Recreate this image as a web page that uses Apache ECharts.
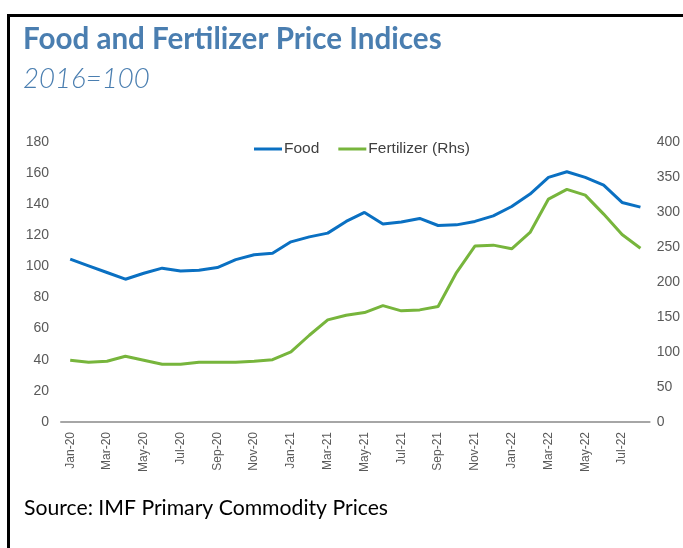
<!DOCTYPE html>
<html>
<head>
<meta charset="utf-8">
<script src="https://cdn.jsdelivr.net/npm/echarts@6/dist/echarts.min.js"></script>
<style>html,body{margin:0;padding:0;background:#fff}#c{width:683px;height:548px}</style>
</head>
<body>
<div id="c"></div>
<script>
const months = ['Jan-20','Feb-20','Mar-20','Apr-20','May-20','Jun-20','Jul-20','Aug-20','Sep-20','Oct-20','Nov-20','Dec-20',
  'Jan-21','Feb-21','Mar-21','Apr-21','May-21','Jun-21','Jul-21','Aug-21','Sep-21','Oct-21','Nov-21','Dec-21',
  'Jan-22','Feb-22','Mar-22','Apr-22','May-22','Jun-22','Jul-22','Aug-22'];
const food = [104.6,100.3,96,91.7,95.5,98.8,96.9,97.5,99.2,104.3,107.4,108.4,
  115.7,118.9,121.3,128.8,134.6,127.1,128.4,130.7,126.2,126.6,128.8,132.4,
  138.4,146.4,157.1,160.7,157.1,152.1,141,138];
const fertilizer = [88,85.2,86.7,93.8,88.1,82.4,82.4,85.2,85.2,85.2,86.7,89,
  100,123.8,145.7,152.4,156.2,166,158.6,160,164.8,213.3,251,252.4,
  247.1,270.5,318.1,331.9,323.8,296.7,267.6,248];
const leftTicks = {min:0, max:180, interval:20};
const rightTicks = {min:0, max:400, interval:50};

const chart = echarts.init(document.getElementById('c'));
chart.setOption({
  animation:false,
  title:[
    {text:'Food and Fertilizer Price Indices', left:23, top:24, padding:0,
     textStyle:{fontFamily:'Lato', fontWeight:'bold', fontSize:29.6, color:'#4A7EB0'}},
    {text:'2016=100', left:23, top:65, padding:0,
     textStyle:{fontFamily:'Lato', fontStyle:'italic', fontWeight:300, fontSize:27.6, color:'#4A7EB0'}},
    {text:'Source: IMF Primary Commodity Prices', left:24, top:498, padding:0,
     textStyle:{fontFamily:'Lato', fontWeight:'normal', fontSize:21.2, color:'#000'}}
  ],
  graphic:[
    {type:'line', shape:{x1:8.5, y1:15.5, x2:683, y2:15.5}, style:{stroke:'#000', lineWidth:3}},
    {type:'line', shape:{x1:8.5, y1:14, x2:8.5, y2:548}, style:{stroke:'#000', lineWidth:3}}
  ],
  legend:{
    left:254, top:141, padding:0, itemWidth:28, itemHeight:3, itemGap:19, icon:'rect',
    textStyle:{fontFamily:'Liberation Sans', fontSize:15.5, color:'#404040', padding:[0,0,0,-3]},
    data:['Food','Fertilizer (Rhs)']
  },
  grid:{left:61, right:33, top:141.7, bottom:126},
  xAxis:{
    type:'category', data:months, boundaryGap:true,
    axisLine:{lineStyle:{color:'#A6A6A6', width:2}},
    axisTick:{show:false},
    axisLabel:{rotate:90, interval:1, fontFamily:'Liberation Sans', fontSize:12, color:'#595959', margin:10}
  },
  yAxis:[
    {type:'value', min:leftTicks.min, max:leftTicks.max, interval:leftTicks.interval,
     splitLine:{show:false}, axisLine:{show:false}, axisTick:{show:false},
     axisLabel:{fontFamily:'Liberation Sans', fontSize:14, color:'#595959', margin:12}},
    {type:'value', min:rightTicks.min, max:rightTicks.max, interval:rightTicks.interval,
     splitLine:{show:false}, axisLine:{show:false}, axisTick:{show:false},
     axisLabel:{fontFamily:'Liberation Sans', fontSize:14, color:'#595959', margin:7}}
  ],
  series:[
    {name:'Food', type:'line', data:food, yAxisIndex:0, showSymbol:false, symbol:'none',
     lineStyle:{color:'#0A70C2', width:3}, itemStyle:{color:'#0A70C2'}},
    {name:'Fertilizer (Rhs)', type:'line', data:fertilizer, yAxisIndex:1, showSymbol:false, symbol:'none',
     lineStyle:{color:'#77B53C', width:3}, itemStyle:{color:'#77B53C'}}
  ]
});
</script>
</body>
</html>
